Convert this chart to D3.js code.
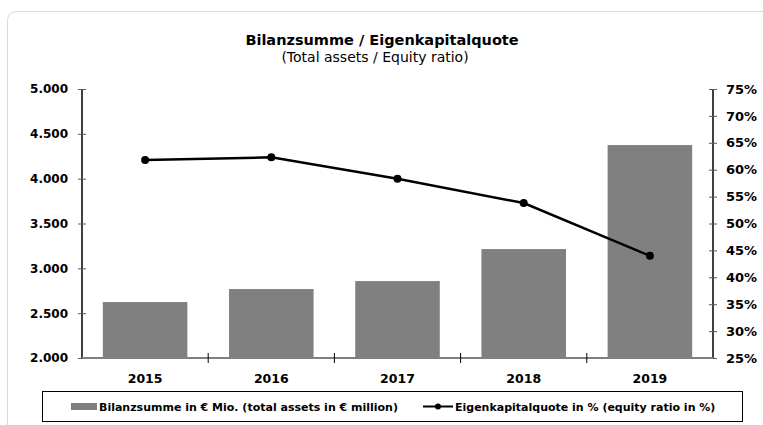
<!DOCTYPE html>
<html><head><meta charset="utf-8">
<script src="https://cdn.jsdelivr.net/npm/d3@7"></script>
<style>
html,body{margin:0;padding:0;background:#fff;}
svg{display:block;font-family:"DejaVu Sans",sans-serif;}
</style></head>
<body>
<svg id="c" width="763" height="425"></svg>
<script>
const years = ["2015","2016","2017","2018","2019"];
const totalAssets = [2624, 2769, 2858, 3215, 4375];
const equityRatio = [61.8, 62.3, 58.3, 53.8, 44.0];
const leftTicks = [2000, 2500, 3000, 3500, 4000, 4500, 5000];
const rightTicks = [25, 30, 35, 40, 45, 50, 55, 60, 65, 70, 75];
const titleText = "Bilanzsumme / Eigenkapitalquote";
const subtitleText = "(Total assets / Equity ratio)";
const legendBar = "Bilanzsumme  in € Mio. (total assets in € million)";
const legendLine = "Eigenkapitalquote in % (equity ratio in %)";

const svg = d3.select("#c");
const L = 82, R = 713, T = 89, B = 358;
const FF = "DejaVu Sans, sans-serif";

// panel
svg.append("rect").attr("x",7.5).attr("y",11.5).attr("width",800).attr("height",450)
  .attr("rx",9).attr("fill","#fff").attr("stroke","#d9d9d9").attr("stroke-width",1);

svg.append("text").attr("x",382).attr("y",45).attr("text-anchor","middle")
  .attr("font-weight","bold").attr("font-size",14.5).attr("fill","#000").text(titleText);
svg.append("text").attr("x",375).attr("y",62).attr("text-anchor","middle")
  .attr("font-size",14).attr("fill","#000").text(subtitleText);

const x = d3.scaleBand().domain(years).range([L,R]).paddingInner(0.33).paddingOuter(0.165);
const xb = d3.scaleBand().domain(years).range([L,R]);
const yL = d3.scaleLinear().domain([2000,5000]).range([B,T]);
const yR = d3.scaleLinear().domain([25,75]).range([B,T]);

// bars
svg.append("g").selectAll("rect").data(years).join("rect")
  .attr("x",d=>x(d)).attr("width",x.bandwidth())
  .attr("y",(d,i)=>yL(totalAssets[i])).attr("height",(d,i)=>B-yL(totalAssets[i]))
  .attr("fill","#808080");

// left axis
const fmtL = d => d3.format(",")(d).replace(/,/g,".");
const gl = svg.append("g").attr("transform",`translate(${L},0)`)
  .call(d3.axisLeft(yL).tickValues(leftTicks).tickFormat(fmtL).tickSize(4).tickPadding(10));
gl.select(".domain").attr("stroke","#000").attr("stroke-width",1.5).attr("d",`M0,${T}V${B}`);
gl.selectAll(".tick line").attr("x1",-4).attr("x2",4).attr("stroke","#595959");
gl.selectAll(".tick text").attr("font-size",12).attr("font-weight","bold").attr("fill","#000")
  .attr("font-family",FF);

// right axis
const gr = svg.append("g").attr("transform",`translate(${R},0)`)
  .call(d3.axisRight(yR).tickValues(rightTicks).tickFormat(d=>d+"%").tickSize(4).tickPadding(9));
gr.select(".domain").attr("stroke","#000").attr("stroke-width",1.5).attr("d",`M0,${T}V${B}`);
gr.selectAll(".tick line").attr("x1",-4).attr("x2",4).attr("stroke","#595959");
gr.selectAll(".tick text").attr("font-size",13).attr("font-weight","bold").attr("fill","#000")
  .attr("font-family",FF);

// bottom axis
const gb = svg.append("g").attr("transform",`translate(0,${B})`);
gb.append("line").attr("x1",L).attr("x2",R).attr("stroke","#808080").attr("stroke-width",2);
gb.selectAll("line.t").data(years.slice(1)).join("line").attr("class","t")
  .attr("x1",d=>xb(d)).attr("x2",d=>xb(d)).attr("y1",-5).attr("y2",5)
  .attr("stroke","#000").attr("stroke-width",1);
gb.selectAll("text").data(years).join("text")
  .attr("x",d=>xb(d)+xb.bandwidth()/2).attr("y",25).attr("text-anchor","middle")
  .attr("font-size",12.5).attr("font-weight","bold").text(d=>d);

// line
const cx = d => xb(d)+xb.bandwidth()/2;
svg.append("path").datum(years).attr("fill","none").attr("stroke","#000").attr("stroke-width",2.5)
  .attr("d", d3.line().x(d=>cx(d)).y((d,i)=>yR(equityRatio[i])));
svg.append("g").selectAll("circle").data(years).join("circle")
  .attr("cx",d=>cx(d)).attr("cy",(d,i)=>yR(equityRatio[i])).attr("r",4).attr("fill","#000");

// legend
const lg = svg.append("g");
lg.append("rect").attr("x",42.5).attr("y",391.5).attr("width",700).attr("height",30)
  .attr("fill","#fff").attr("stroke","#000").attr("stroke-width",1);
lg.append("rect").attr("x",71).attr("y",403).attr("width",26).attr("height",7).attr("fill","#808080");
lg.append("text").attr("x",99).attr("y",411).attr("font-size",11).attr("font-weight","bold").text(legendBar);
lg.append("line").attr("x1",423).attr("x2",453).attr("y1",406.5).attr("y2",406.5).attr("stroke","#000").attr("stroke-width",2);
lg.append("circle").attr("cx",438).attr("cy",406.5).attr("r",3).attr("fill","#000");
lg.append("text").attr("x",455).attr("y",411).attr("font-size",11).attr("font-weight","bold").text(legendLine);
</script>
</body></html>
